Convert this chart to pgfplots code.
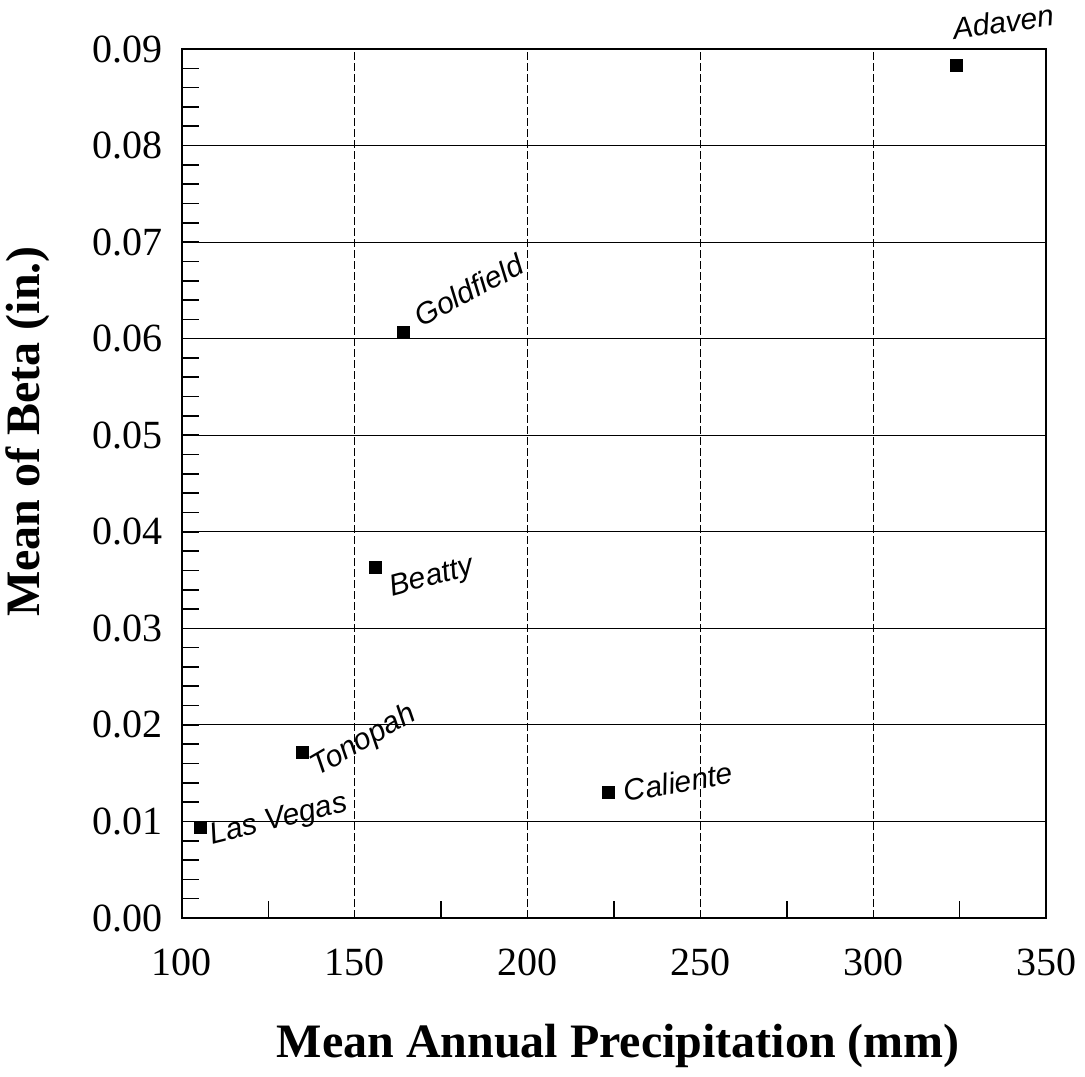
\documentclass[border=0pt]{standalone}
\usepackage{pgfplots}
\pgfplotsset{compat=1.18}
\usepackage{fontspec}
\setmainfont{Liberation Serif}
\newfontfamily\handfont{Liberation Sans}
\begin{document}
\begin{tikzpicture}
\begin{axis}[
  name=ax,
  scale only axis,
  width=432pt, height=434.5pt,
  xmin=100, xmax=350, ymin=0, ymax=0.09,
  xtick={100,150,...,350},
  ytick={0,0.01,...,0.09},
  minor xtick={125,175,225,275,325},
  minor ytick={0.002,0.004,...,0.088},
  scaled ticks=false,
  yticklabel style={/pgf/number format/fixed, /pgf/number format/fixed zerofill, /pgf/number format/precision=2, xshift=-6pt},
  /pgf/number format/assume math mode=true,
  tick label style={font=\fontsize{20pt}{22pt}\selectfont},
  xticklabel style={yshift=-12pt},
  tick align=inside,
  major tick length=0pt,
  minor tick length=8.5pt,
  tick style={black, line width=0.8pt},
  xtick pos=bottom, ytick pos=left,
  axis line style={line width=1pt},
  grid=major,
  x grid style={black, dashed, line width=0.6pt, dash pattern=on 4pt off 1.5pt},
  y grid style={black, line width=0.6pt},
  xlabel={\textbf{Mean Annual Precipitation (mm)}},
  ylabel={\textbf{Mean of Beta (in.)}},
  label style={font=\fontsize{24pt}{26pt}\selectfont},
  xlabel style={at={(axis description cs:0.505,-0.147)}, anchor=center},
  ylabel style={at={(axis description cs:-0.178,0.56)}, anchor=center},
  clip=false,
]
\addplot[only marks, mark=square*, mark size=3pt, black] coordinates {
  (105.2,0.0094)
  (134.7,0.0171)
  (156.1,0.0363)
  (164.2,0.0607)
  (223.4,0.0130)
  (324.0,0.0883)
};
\begin{scope}[every node/.style={font=\handfont\itshape\fontsize{15pt}{16pt}\selectfont}]
\node[rotate=8]  at (axis cs:337.6,0.0928) {Adaven};
\node[rotate=28] at (axis cs:183.0,0.0650) {Goldfield};
\node[rotate=15] at (axis cs:172.3,0.0352) {Beatty};
\node[rotate=30] at (axis cs:152.6,0.0183) {Tonopah};
\node[rotate=10] at (axis cs:243.6,0.0141) {Caliente};
\node[rotate=14] at (axis cs:128.0,0.0101) {Las Vegas};
\end{scope}
\end{axis}
\pgfresetboundingbox
\path[use as bounding box] (-91pt,-79pt) rectangle (451.5pt,459pt);
\end{tikzpicture}
\end{document}
